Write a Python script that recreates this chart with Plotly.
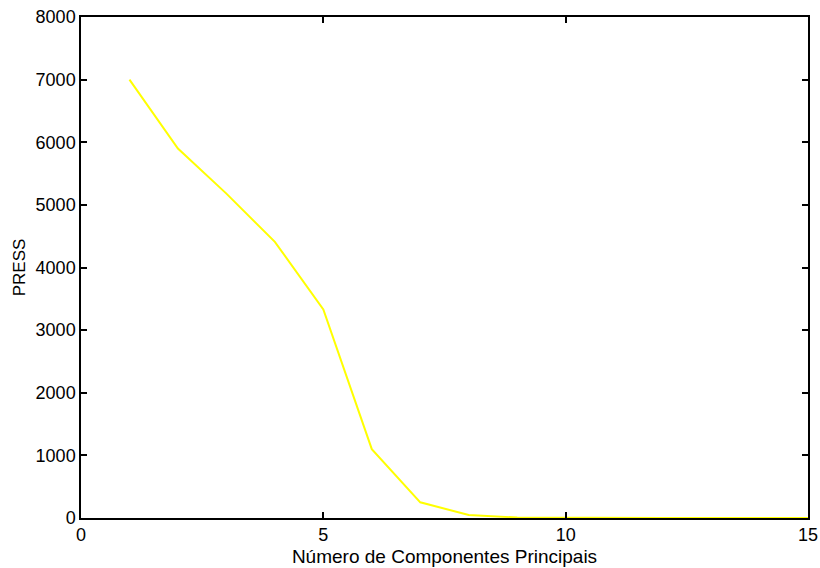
import plotly.graph_objects as go

components = [1, 2, 3, 4, 5, 6, 7, 8, 9, 10, 11, 12, 13, 14, 15]
press = [7000, 5900, 5180, 4410, 3330, 1100, 250, 48, 8, 2, 1, 0, 0, 0, 0]

xticks = [0, 5, 10, 15]
yticks = [0, 1000, 2000, 3000, 4000, 5000, 6000, 7000, 8000]

tick_font = dict(family="Liberation Sans, Arial", size=18, color="black")
title_font = dict(family="Liberation Sans, Arial", size=19, color="black")

fig = go.Figure()
fig.add_trace(go.Scatter(x=components, y=press, mode="lines",
                         line=dict(color="#ffff00", width=2), showlegend=False))

axis_common = dict(showline=True, linecolor="black", linewidth=1.5, mirror="ticks",
                   ticks="inside", ticklen=6, tickcolor="black", tickwidth=1.5,
                   showgrid=False, zeroline=False, automargin=False,
                   ticklabeloverflow="allow", tickfont=tick_font)

fig.update_xaxes(range=[0, 15], tickvals=xticks, ticktext=[str(v) for v in xticks],
                 title=dict(text="Número de Componentes Principais", font=title_font, standoff=5),
                 **axis_common)
fig.update_yaxes(range=[0, 8000], tickvals=yticks, ticktext=[str(v) for v in yticks],
                 title=dict(text="PRESS", font=dict(family="Liberation Sans, Arial", size=17, color="black"),
                            standoff=6),
                 **axis_common)

fig.update_layout(width=820, height=568, paper_bgcolor="white", plot_bgcolor="white",
                  margin=dict(l=81, r=12, t=17, b=50))

fig.write_html("out.html", config={"displayModeBar": False},
               post_script="document.body.style.margin='0';document.body.style.overflow='hidden';")
